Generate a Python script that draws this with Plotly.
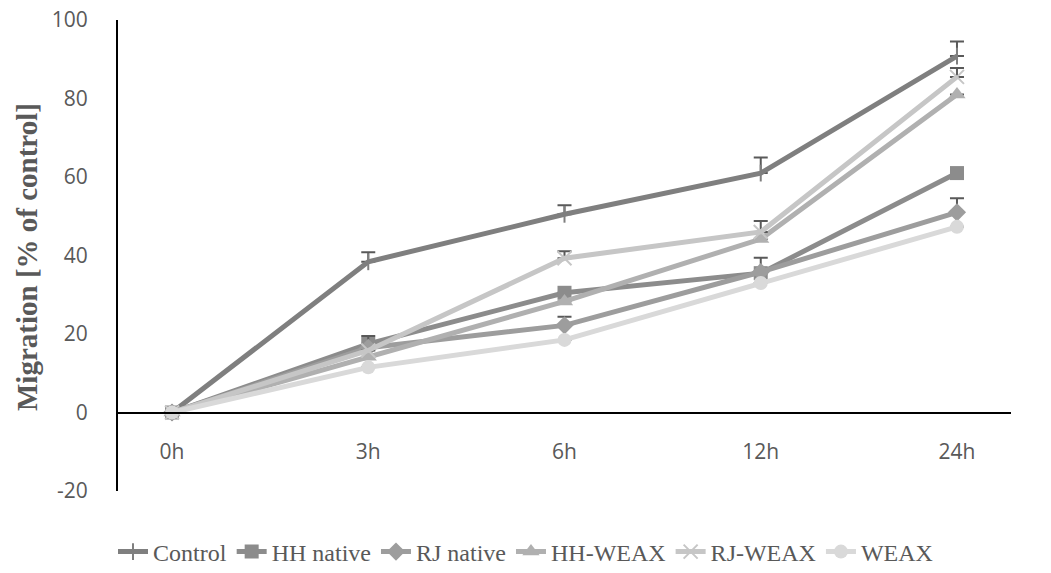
import plotly.graph_objects as go

times = ["0h", "3h", "6h", "12h", "24h"]
y_ticks = [-20, 0, 20, 40, 60, 80, 100]
y_tick_text = ["-20", "0", "20", "40", "60", "80", "100"]

control = [0, 38.4, 50.5, 61.0, 90.8]
hh_native = [0, 17.5, 30.5, 35.5, 61.0]
rj_native = [0, 16.5, 22.2, 35.8, 51.0]
hh_weax = [0, 14.2, 28.3, 44.2, 81.0]
rj_weax = [0, 15.8, 39.3, 46.0, 85.5]
weax = [0, 11.5, 18.5, 33.0, 47.3]

control_err = [None, 2.4, 2.3, 4.0, 3.7]
hh_native_err = [None, None, None, None, None]
rj_native_err = [None, 3.0, 2.2, 3.6, 3.6]
hh_weax_err = [None, None, None, None, None]
rj_weax_err = [None, None, 1.8, 2.8, 2.3]
weax_err = [None, None, None, None, None]

series = [
    ("Control", control, control_err, "#7f7f7f", "line-ns-open", 12),
    ("HH native", hh_native, hh_native_err, "#8c8c8c", "square", 14),
    ("RJ native", rj_native, rj_native_err, "#9d9d9d", "diamond", 14),
    ("HH-WEAX", hh_weax, hh_weax_err, "#b0b0b0", "triangle-up", 15),
    ("RJ-WEAX", rj_weax, rj_weax_err, "#c6c6c6", "x-thin-open", 14),
    ("WEAX", weax, weax_err, "#d9d9d9", "circle", 14),
]

fig = go.Figure()
for name, vals, errs, color, sym, size in series:
    marker = dict(symbol=sym, size=size, color=color)
    if sym.endswith("open"):
        marker["line"] = dict(color=color if sym != "line-ns-open" else "#6a6a6a", width=2)
    minus = [0 if e is not None else None for e in errs]
    fig.add_trace(go.Scatter(
        x=times, y=vals, name=name, mode="lines+markers",
        line=dict(color=color, width=5),
        marker=marker,
        error_y=dict(type="data", symmetric=False, array=errs, arrayminus=minus,
                     visible=True, color="#595959", thickness=2, width=7),
    ))

fig.update_layout(
    width=1051, height=573,
    margin=dict(l=118, r=40, t=20, b=82, autoexpand=False),
    paper_bgcolor="white", plot_bgcolor="white",
    showlegend=True,
    legend=dict(orientation="h", x=0.5, xanchor="center", xref="container",
                y=1 - 552 / 573, yanchor="middle", yref="container",
                font=dict(family="Liberation Serif", size=24, color="#595959"),
                tracegroupgap=0),
    xaxis=dict(type="category", categoryorder="array", categoryarray=times,
               anchor="free", position=1/6, automargin=False,
               showline=True, linecolor="black", linewidth=2,
               showgrid=False, zeroline=False, ticks="",
               ticklabelstandoff=20,
               tickfont=dict(family="Open Sans", size=21, color="#595959")),
    yaxis=dict(range=[-20, 100], tickvals=y_ticks, ticktext=y_tick_text,
               showgrid=False, zeroline=False, automargin=False,
               showline=True, linecolor="black", linewidth=2, ticks="",
               ticklabelstandoff=24,
               tickfont=dict(family="Open Sans", size=21, color="#595959")),
    annotations=[dict(text="<b>Migration [% of control]</b>", textangle=-90,
                      xref="paper", yref="paper", x=-(118 - 27) / 893, y=(491 - 257) / 471,
                      xanchor="center", yanchor="middle", showarrow=False,
                      font=dict(family="Liberation Serif", size=29, color="#595959"))],
)

fig.write_html("out.html")
